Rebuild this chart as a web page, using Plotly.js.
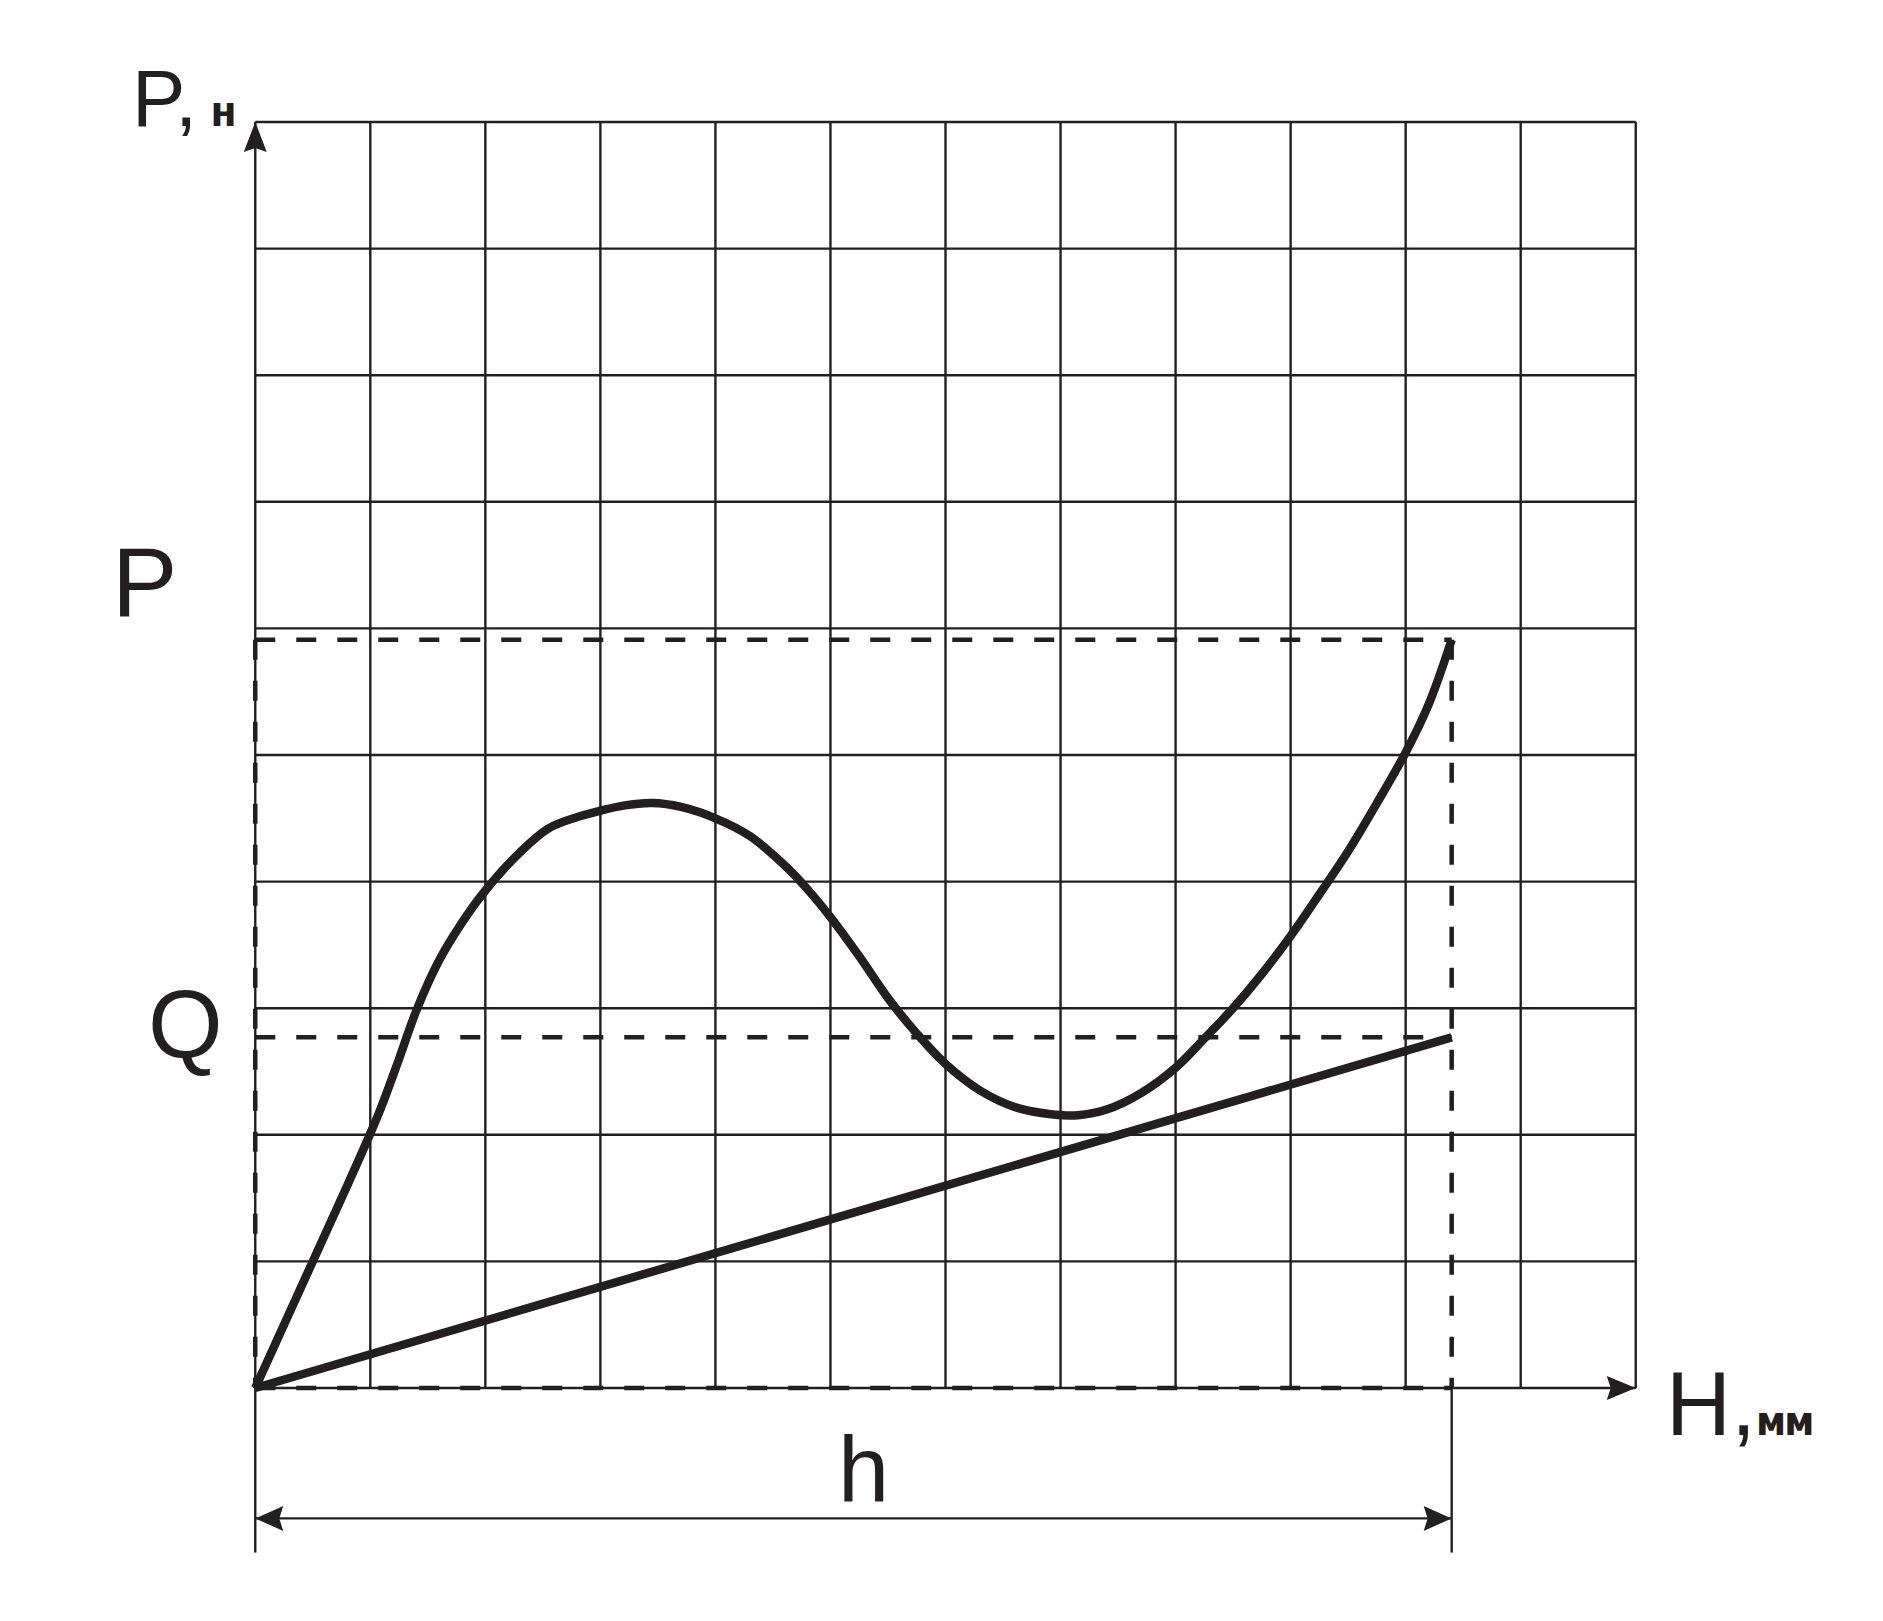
<!DOCTYPE html>
<html><head><meta charset="utf-8">
<script src="https://cdn.plot.ly/plotly-3.0.1.min.js"></script>
<style>html,body{margin:0;padding:0;background:#fff;}</style>
</head><body>
<div id="chart" style="width:1883px;height:1621px;"></div>
<script>
// ---- data (grid units) ----
const gridX = [0,1,2,3,4,5,6,7,8,9,10,11,12];
const gridY = [0,1,2,3,4,5,6,7,8,9,10];
const curveH = [0, 0.5, 0.8, 1.0, 1.1, 1.25, 1.4, 1.6, 1.8, 2.0, 2.3, 2.55, 2.8, 3.0, 3.2, 3.45, 3.7, 4.0, 4.3, 4.6, 4.8, 5.0, 5.25, 5.5, 5.75, 6.0, 6.3, 6.6, 6.9, 7.15, 7.4, 7.7, 8.0, 8.25, 8.5, 8.75, 9.0, 9.25, 9.5, 9.75, 10.0, 10.2, 10.4];
const curveP = [0, 1.0, 1.6, 2.01, 2.23, 2.6, 2.98, 3.38, 3.68, 3.93, 4.23, 4.42, 4.51, 4.56, 4.60, 4.62, 4.59, 4.50, 4.36, 4.13, 3.94, 3.72, 3.41, 3.08, 2.80, 2.56, 2.35, 2.22, 2.165, 2.155, 2.20, 2.33, 2.53, 2.76, 3.0, 3.27, 3.57, 3.90, 4.24, 4.62, 5.02, 5.40, 5.91];
const lineH = [0, 10.4];
const lineQ = [0, 2.77];
const hVal = 10.4;
const pVal = 5.91;
const qVal = 2.77;
const SMALL = 'font-weight:bold;font-family:\'Liberation Sans Narrow\',\'DejaVu Sans Condensed\',\'Liberation Sans\'';
const yAxisLabel = 'P,<span style="font-size:42px;' + SMALL + '"> н</span>';
const xAxisLabel = 'H,<span style="font-size:41px;letter-spacing:-2px;' + SMALL + '">мм</span>';
const pLabel = 'P';
const qLabel = 'Q';
const hLabel = 'h';

// ---- style ----
const INK = '#231f20';
const FONT = 'Liberation Sans, Arial, sans-serif';
const xr = [-0.15, 12.15], yr = [-0.15, 10.15];
const dimY = -1.03, extBottom = -1.30;
const toPaperY = v => (v - yr[0]) / (yr[1] - yr[0]);
const DASH = '20px,21px';

const traces = [];
function dashed(xs, ys) {
  traces.push({x: xs, y: ys, mode: 'lines', hoverinfo: 'skip',
    line: {color: INK, width: 4.5, dash: DASH}});
}
dashed([0, hVal], [pVal, pVal]);
dashed([0, hVal], [qVal, qVal]);
dashed([hVal, hVal], [pVal, 0]);
dashed([0, 0], [pVal, 0]);
dashed([0, hVal], [0, 0]);

traces.push({x: lineH, y: lineQ, mode: 'lines', hoverinfo: 'skip',
  line: {color: INK, width: 8.5}});
traces.push({x: curveH, y: curveP, mode: 'lines', hoverinfo: 'skip',
  line: {color: INK, width: 8.5, shape: 'spline', smoothing: 1}});

const shapes = [];
gridX.forEach(g => shapes.push({type: 'line', xref: 'x', yref: 'y', layer: 'below',
  x0: g, x1: g, y0: gridY[0], y1: gridY[gridY.length - 1], line: {color: INK, width: 2.4}}));
gridY.forEach(g => shapes.push({type: 'line', xref: 'x', yref: 'y', layer: 'below',
  x0: gridX[0], x1: gridX[gridX.length - 1], y0: g, y1: g, line: {color: INK, width: 2.4}}));

// axis arrowheads
shapes.push({type: 'path', xref: 'x', yref: 'y', xsizemode: 'pixel', ysizemode: 'pixel',
  xanchor: gridX[0], yanchor: gridY[gridY.length - 1],
  path: 'M0,0 L-11.5,-30 L0,-26 L11.5,-30 Z', fillcolor: INK, line: {width: 0}});
shapes.push({type: 'path', xref: 'x', yref: 'y', xsizemode: 'pixel', ysizemode: 'pixel',
  xanchor: gridX[gridX.length - 1], yanchor: gridY[0],
  path: 'M0,0 L-29,12 L-25,0 L-29,-12 Z', fillcolor: INK, line: {width: 0}});

// dimension line h
shapes.push({type: 'line', xref: 'x', yref: 'paper', x0: 0, x1: hVal,
  y0: toPaperY(dimY), y1: toPaperY(dimY), line: {color: INK, width: 2.4}});
shapes.push({type: 'line', xref: 'x', yref: 'paper', x0: 0, x1: 0,
  y0: toPaperY(0), y1: toPaperY(extBottom), line: {color: INK, width: 2.4}});
shapes.push({type: 'line', xref: 'x', yref: 'paper', x0: hVal, x1: hVal,
  y0: toPaperY(0), y1: toPaperY(extBottom), line: {color: INK, width: 2.4}});
shapes.push({type: 'path', xref: 'x', yref: 'paper', xsizemode: 'pixel', ysizemode: 'pixel',
  xanchor: 0, yanchor: toPaperY(dimY),
  path: 'M0,0 L28,12.5 L24,0 L28,-12.5 Z', fillcolor: INK, line: {width: 0}});
shapes.push({type: 'path', xref: 'x', yref: 'paper', xsizemode: 'pixel', ysizemode: 'pixel',
  xanchor: hVal, yanchor: toPaperY(dimY),
  path: 'M0,0 L-28,12.5 L-24,0 L-28,-12.5 Z', fillcolor: INK, line: {width: 0}});

const annotations = [
  {xref: 'x', yref: 'y', x: 0, y: 10, text: yAxisLabel, showarrow: false,
   font: {family: FONT, size: 80, color: INK}, xanchor: 'left', yanchor: 'middle', xshift: -125, yshift: 23},
  {xref: 'x', yref: 'y', x: 12, y: 0, text: xAxisLabel, showarrow: false,
   font: {family: FONT, size: 90, color: INK}, xanchor: 'left', yanchor: 'middle', xshift: 28, yshift: -16},
  {xref: 'x', yref: 'y', x: 0, y: pVal, text: pLabel, showarrow: false,
   font: {family: FONT, size: 98, color: INK}, xanchor: 'center', yanchor: 'middle', xshift: -111, yshift: 58},
  {xref: 'x', yref: 'y', x: 0, y: qVal, text: qLabel, showarrow: false,
   font: {family: FONT, size: 96, color: INK}, xanchor: 'center', yanchor: 'middle', xshift: -70, yshift: 13},
  {xref: 'x', yref: 'y', x: hVal / 2, y: 0, text: hLabel, showarrow: false,
   font: {family: FONT, size: 92, color: INK}, xanchor: 'center', yanchor: 'middle', xshift: 10, yshift: -81}
];

const layout = {
  width: 1883, height: 1621,
  margin: {l: 238, r: 230, t: 103, b: 214, pad: 0},
  paper_bgcolor: '#ffffff', plot_bgcolor: '#ffffff',
  showlegend: false,
  xaxis: {range: xr, visible: false, fixedrange: true},
  yaxis: {range: yr, visible: false, fixedrange: true},
  shapes: shapes,
  annotations: annotations
};

Plotly.newPlot('chart', traces, layout, {staticPlot: true, displayModeBar: false});
</script>
</body></html>
